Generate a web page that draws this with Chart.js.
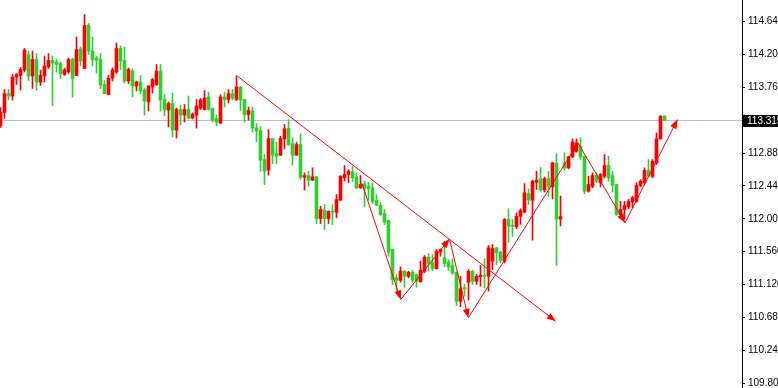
<!DOCTYPE html>
<html><head><meta charset="utf-8">
<script src="https://cdn.jsdelivr.net/npm/chart.js@4.4.1/dist/chart.umd.min.js"></script>
<style>html,body{margin:0;padding:0;background:#fff;overflow:hidden}#wrap{width:778px;height:388px;position:relative}</style>
</head><body><div id="wrap"><canvas id="c" width="778" height="388"></canvas></div>
<script>
const opens = [113.248,113.422,113.675,113.642,113.897,113.917,113.990,114.197,113.910,114.131,
113.830,113.910,114.031,114.118,114.098,114.077,113.930,113.964,114.131,113.917,
114.271,114.011,114.586,114.244,114.150,114.131,113.796,113.662,113.883,113.964,
114.278,114.118,113.843,113.977,113.776,113.830,113.722,113.563,113.763,113.796,
113.977,113.596,113.455,113.542,113.187,113.462,113.388,113.462,113.348,113.388,
113.482,113.462,113.629,113.476,113.342,113.281,113.629,113.596,113.675,113.596,
113.763,113.596,113.395,113.442,113.214,113.181,112.793,112.652,113.074,112.873,
112.851,113.070,113.208,113.007,112.851,112.994,112.556,112.579,112.517,112.561,
112.004,112.115,112.004,112.101,112.088,112.249,112.548,112.592,112.628,112.561,
112.415,112.468,112.436,112.415,112.245,112.182,112.070,111.978,111.590,111.211,
111.175,111.299,111.232,111.286,111.255,111.157,111.299,111.487,111.412,111.332,
111.559,111.479,111.420,111.376,111.286,110.898,111.077,111.152,111.299,111.165,
111.224,111.246,111.232,111.433,111.612,111.554,111.433,111.991,111.911,111.893,
112.034,112.088,112.338,112.249,112.490,112.535,112.385,112.539,112.428,112.746,
111.997,112.749,112.682,112.827,112.904,112.971,112.837,112.369,112.436,112.579,
112.482,112.569,112.713,112.579,112.459,112.057,112.124,112.160,112.227,112.235,
112.446,112.482,112.650,112.569,112.749,113.070,113.372];
const highs = [113.489,113.729,113.729,113.930,113.943,114.024,114.278,114.244,114.244,114.210,
113.990,114.177,114.210,114.177,114.137,114.098,114.017,114.150,114.150,114.432,
114.298,114.732,114.612,114.432,114.177,114.210,113.850,113.917,114.017,114.351,
114.311,114.298,114.017,114.004,113.843,113.917,113.749,113.783,113.877,114.064,
114.064,113.662,113.563,113.682,113.482,113.516,113.529,113.642,113.415,113.596,
113.609,113.716,113.696,113.482,113.388,113.662,113.696,113.729,113.729,113.910,
113.769,113.600,113.496,113.496,113.274,113.234,112.860,113.194,113.078,113.025,
113.104,113.261,113.328,113.083,113.025,113.136,112.615,112.636,112.682,112.565,
112.168,112.191,112.105,112.191,112.325,112.579,112.713,112.659,112.703,112.615,
112.579,112.503,112.490,112.482,112.325,112.214,112.124,111.982,111.594,111.255,
111.358,111.309,111.299,111.309,111.264,111.433,111.510,111.536,111.523,111.590,
111.599,111.700,111.456,111.466,111.290,111.232,111.121,111.322,111.313,111.255,
111.376,111.466,111.643,111.656,111.616,111.567,112.004,112.134,111.991,112.080,
112.134,112.472,112.402,112.517,112.636,112.686,112.559,112.632,112.757,112.873,
112.305,112.883,112.837,113.070,113.070,113.083,112.841,112.569,112.615,112.615,
112.605,112.860,112.837,112.636,112.463,112.235,112.235,112.258,112.302,112.482,
112.526,112.682,112.793,112.793,113.150,113.382,113.382];
const lows = [113.221,113.342,113.589,113.589,113.796,113.722,113.964,113.850,113.743,113.722,
113.783,113.830,114.011,113.516,113.964,113.877,113.917,113.943,113.629,113.917,
114.044,114.011,114.197,114.044,113.950,113.743,113.670,113.658,113.843,113.943,
113.997,113.816,113.809,113.629,113.709,113.669,113.388,113.442,113.682,113.783,
113.442,113.375,113.228,113.094,113.080,113.254,113.295,113.335,113.335,113.214,
113.462,113.455,113.455,113.295,113.241,113.274,113.496,113.549,113.589,113.583,
113.449,113.295,113.321,113.161,113.028,112.636,112.459,112.583,112.739,112.739,
112.847,112.937,112.981,112.717,112.847,112.526,112.383,112.436,112.513,111.937,
111.937,111.857,111.937,111.924,112.013,112.245,112.503,112.482,112.495,112.402,
112.406,112.160,112.249,112.204,112.178,112.044,111.924,111.500,111.121,111.042,
111.152,111.085,111.211,111.152,111.085,111.153,111.278,111.299,111.309,111.328,
111.500,111.358,111.309,111.255,110.841,110.823,110.965,110.912,111.121,111.121,
111.098,111.077,111.032,111.322,111.389,111.412,111.412,111.687,111.767,111.867,
111.924,112.080,112.191,111.714,112.392,112.369,112.359,112.298,112.265,111.380,
111.904,112.646,112.669,112.820,112.891,112.793,112.338,112.356,112.415,112.482,
112.428,112.548,112.503,112.356,112.044,112.013,112.000,112.134,112.147,112.222,
112.428,112.472,112.561,112.548,112.726,113.061,113.310];
const closes = [113.422,113.675,113.642,113.897,113.930,113.997,114.257,113.910,114.131,113.830,
113.917,114.044,114.118,114.084,114.064,113.943,113.990,114.131,113.877,114.264,
114.111,114.586,114.244,114.131,114.118,113.789,113.675,113.883,113.990,114.278,
114.111,113.843,113.997,113.776,113.830,113.709,113.576,113.776,113.863,113.977,
113.589,113.455,113.542,113.187,113.462,113.388,113.462,113.348,113.395,113.509,
113.589,113.615,113.462,113.321,113.295,113.629,113.596,113.675,113.615,113.763,
113.589,113.395,113.449,113.214,113.174,112.784,112.636,113.074,112.851,112.837,
113.074,113.204,112.994,112.851,112.994,112.556,112.579,112.517,112.561,112.004,
112.124,112.004,112.101,112.088,112.258,112.569,112.592,112.636,112.548,112.415,
112.459,112.406,112.406,112.231,112.182,112.057,111.955,111.554,111.188,111.179,
111.299,111.232,111.286,111.179,111.165,111.313,111.487,111.402,111.336,111.567,
111.590,111.402,111.358,111.278,110.898,111.064,111.064,111.299,111.165,111.232,
111.246,111.232,111.612,111.603,111.546,111.447,111.991,111.901,111.901,112.034,
112.111,112.348,112.249,112.503,112.517,112.385,112.539,112.432,112.749,111.997,
112.030,112.679,112.829,113.028,113.017,112.829,112.369,112.459,112.579,112.503,
112.592,112.713,112.548,112.450,112.057,112.124,112.178,112.235,112.281,112.446,
112.503,112.650,112.569,112.770,113.070,113.372,113.315];
const tickValues = [109.800,110.240,110.680,111.120,111.560,112.000,112.440,112.880,113.760,114.200,114.640];
const currentPrice = 113.315;
const trendX = [59, 138.8];
const trendY = [113.917, 110.631];
const zigzagX = [90.375, 100.05, 112.25, 116.95, 144.375, 156.125, 169.25];
const zigzagY = [112.472, 110.921, 111.730, 110.676, 113.014, 111.947, 113.328];

const RED = '#ff0000', GREEN = '#32cd32';
const idx = opens.map((_, j) => j);
const colors = idx.map(j => closes[j] >= opens[j] ? RED : GREEN);

const arrowPlugin = {
  id: 'arrows',
  afterDatasetsDraw(chart) {
    const ctx = chart.ctx;
    chart.data.datasets.forEach((ds, i) => {
      if (!ds.arrows) return;
      const pts = chart.getDatasetMeta(i).data;
      for (let k = 1; k < pts.length; k++) {
        const a = pts[k - 1], b = pts[k];
        const ang = Math.atan2(b.y - a.y, b.x - a.x);
        const L = 9, W = 3.5;
        const bx = b.x - L * Math.cos(ang), by = b.y - L * Math.sin(ang);
        ctx.save();
        ctx.fillStyle = RED;
        ctx.beginPath();
        ctx.moveTo(b.x, b.y);
        ctx.lineTo(bx + W * Math.sin(ang), by - W * Math.cos(ang));
        ctx.lineTo(bx - W * Math.sin(ang), by + W * Math.cos(ang));
        ctx.closePath();
        ctx.fill();
        ctx.restore();
      }
    });
  }
};
const priceLabel = {
  id: 'priceLabel',
  afterDraw(chart) {
    const ctx = chart.ctx, s = chart.scales.y;
    const y = s.getPixelForValue(currentPrice);
    ctx.save();
    ctx.fillStyle = '#000';
    ctx.fillRect(s.left + 1, Math.round(y) - 6, 40, 12);
    ctx.fillStyle = '#fff';
    ctx.font = '10px "Liberation Sans"';
    ctx.textBaseline = 'middle';
    ctx.textAlign = 'left';
    ctx.fillText(currentPrice.toFixed(3), s.left + 5, y + 0.5);
    ctx.restore();
  }
};

new Chart(document.getElementById('c'), {
  type: 'bar',
  data: {
    datasets: [
      { type: 'line', data: [{x: -0.125, y: currentPrice}, {x: 185.375, y: currentPrice}],
        borderColor: '#c0c0c0', borderWidth: 1, pointRadius: 0, order: 10 },
      { type: 'bar', data: idx.map(j => ({x: j, y: [lows[j], highs[j]]})),
        backgroundColor: colors, barThickness: 1, grouped: false, borderWidth: 0, order: 5 },
      { type: 'bar', data: idx.map(j => ({x: j, y: [Math.min(opens[j], closes[j]), Math.max(opens[j], closes[j])]})),
        backgroundColor: colors, barThickness: 3, minBarLength: 1, grouped: false, borderWidth: 0, order: 4 },
      { type: 'line', data: trendX.map((x, k) => ({x, y: trendY[k]})), arrows: true,
        borderColor: RED, borderWidth: 1, pointRadius: 0, tension: 0, order: 1 },
      { type: 'line', data: zigzagX.map((x, k) => ({x, y: zigzagY[k]})), arrows: true,
        borderColor: RED, borderWidth: 1, pointRadius: 0, tension: 0, order: 1 }
    ]
  },
  options: {
    responsive: false, animation: false, devicePixelRatio: 1,
    layout: { padding: 0 },
    plugins: { legend: { display: false }, tooltip: { enabled: false } },
    scales: {
      x: { type: 'linear', min: -0.125, max: 185.375, display: false, offset: false },
      y: { type: 'linear', position: 'right', min: 109.7375, max: 114.9266,
        afterBuildTicks: s => { s.ticks = tickValues.map(v => ({value: v})); },
        afterFit: s => { s.width = 36; s.paddingTop = 0; s.paddingBottom = 0; },
        grid: { drawOnChartArea: false, drawTicks: true, tickLength: 3, color: '#000', tickColor: '#000' },
        border: { display: true, color: '#000', width: 1 },
        ticks: { padding: 3, color: '#000', autoSkip: false, font: { family: '"Liberation Sans"', size: 10 },
          callback: v => Number(v).toFixed(3) }
      }
    }
  },
  plugins: [arrowPlugin, priceLabel]
});
</script></body></html>
